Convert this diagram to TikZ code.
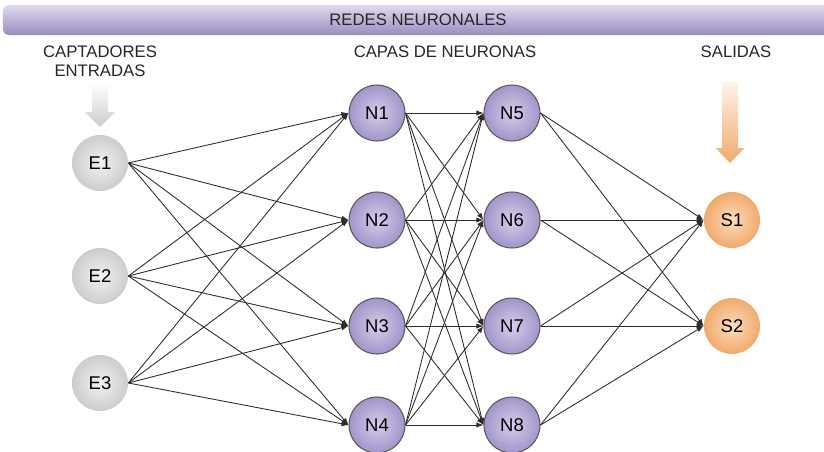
\documentclass[tikz,border=0pt]{standalone}
\usepackage{fontspec}
\setmainfont{Liberation Sans}
\usepackage{xcolor}
\usepackage{tikz}
\usetikzlibrary{arrows.meta}
\definecolor{barTop}{RGB}{224,218,236}
\definecolor{barBottom}{RGB}{155,140,192}
\definecolor{grayIn}{RGB}{242,242,242}
\definecolor{grayOut}{RGB}{204,204,204}
\definecolor{purpleIn}{RGB}{214,206,234}
\definecolor{purpleOut}{RGB}{162,148,202}
\definecolor{orangeIn}{RGB}{252,220,190}
\definecolor{orangeOut}{RGB}{240,170,108}
\definecolor{linkgray}{RGB}{45,45,45}

\tikzset{
  entrada/.style={circle,minimum size=1.12cm,inner sep=0pt,inner color=grayIn,outer color=grayOut,font=\fontsize{10.5}{12}\selectfont},
  neurona/.style={circle,minimum size=1.12cm,inner sep=0pt,inner color=purpleIn,outer color=purpleOut,draw=black!65,line width=0.6pt,font=\fontsize{10.5}{12}\selectfont},
  salida/.style={circle,minimum size=1.12cm,inner sep=0pt,inner color=orangeIn,outer color=orangeOut,font=\fontsize{10.5}{12}\selectfont},
  link/.style={draw=linkgray,line width=0.5pt,-{Latex[length=4pt,width=3pt]}},
  titulo/.style={text=black!85}
}

\begin{document}
\begin{tikzpicture}[font=\fontsize{9.5}{11}\selectfont]
	\useasboundingbox (0,0) rectangle (16.48,9.02);

	% barra del titulo
	\shade[top color=barTop,bottom color=barBottom,rounded corners=3pt] (0.06,8.92) rectangle (16.7,8.32);
	\node [titulo] (title) at (8.36,8.62) {REDES NEURONALES};

	\node [titulo,align=center] (lblE) at (2.0,7.8) {CAPTADORES\\ENTRADAS};
	\node [titulo] (lblN) at (8.9,7.98) {CAPAS DE NEURONAS};
	\node [titulo] (lblS) at (14.72,7.98) {SALIDAS};

	% flechas de bloque
	\shade[top color=white,bottom color=black!20] (1.84,7.36)--(2.16,7.36)--(2.16,6.78)--(2.3,6.78)--(2.0,6.48)--(1.7,6.78)--(1.84,6.78)--cycle;
	\shade[top color=orangeIn!35,bottom color=orangeOut] (14.44,7.38)--(14.76,7.38)--(14.76,6.06)--(14.89,6.06)--(14.6,5.76)--(14.31,6.06)--(14.44,6.06)--cycle;

	% entradas
	\node [entrada] (E1) at (2.0,5.76) {E1};
	\node [entrada] (E2) at (2.0,3.5) {E2};
	\node [entrada] (E3) at (2.0,1.36) {E3};

	% capas de neuronas
	\node [neurona] (N1) at (7.54,6.76) {N1};
	\node [neurona] (N2) at (7.54,4.62) {N2};
	\node [neurona] (N3) at (7.54,2.5) {N3};
	\node [neurona] (N4) at (7.54,0.52) {N4};

	\node [neurona] (N5) at (10.24,6.76) {N5};
	\node [neurona] (N6) at (10.24,4.62) {N6};
	\node [neurona] (N7) at (10.24,2.5) {N7};
	\node [neurona] (N8) at (10.24,0.52) {N8};

	% salidas
	\node [salida] (S1) at (14.64,4.62) {S1};
	\node [salida] (S2) at (14.64,2.5) {S2};

	% conexiones entradas -> primera capa
	\draw[link] (E1.east)--(N1.west); \draw[link] (E1.east)--(N2.west); \draw[link] (E1.east)--(N3.west); \draw[link] (E1.east)--(N4.west);
	\draw[link] (E2.east)--(N1.west); \draw[link] (E2.east)--(N2.west); \draw[link] (E2.east)--(N3.west); \draw[link] (E2.east)--(N4.west);
	\draw[link] (E3.east)--(N1.west); \draw[link] (E3.east)--(N2.west); \draw[link] (E3.east)--(N3.west); \draw[link] (E3.east)--(N4.west);

	% primera capa -> segunda capa
	\draw[link] (N1.east)--(N5.west); \draw[link] (N1.east)--(N6.west); \draw[link] (N1.east)--(N7.west); \draw[link] (N1.east)--(N8.west);
	\draw[link] (N2.east)--(N5.west); \draw[link] (N2.east)--(N6.west); \draw[link] (N2.east)--(N7.west); \draw[link] (N2.east)--(N8.west);
	\draw[link] (N3.east)--(N5.west); \draw[link] (N3.east)--(N6.west); \draw[link] (N3.east)--(N7.west); \draw[link] (N3.east)--(N8.west);
	\draw[link] (N4.east)--(N5.west); \draw[link] (N4.east)--(N6.west); \draw[link] (N4.east)--(N7.west); \draw[link] (N4.east)--(N8.west);

	% segunda capa -> salidas
	\draw[link] (N5.east)--(S1.west); \draw[link] (N5.east)--(S2.west);
	\draw[link] (N6.east)--(S1.west); \draw[link] (N6.east)--(S2.west);
	\draw[link] (N7.east)--(S1.west); \draw[link] (N7.east)--(S2.west);
	\draw[link] (N8.east)--(S1.west); \draw[link] (N8.east)--(S2.west);
\end{tikzpicture}
\end{document}
